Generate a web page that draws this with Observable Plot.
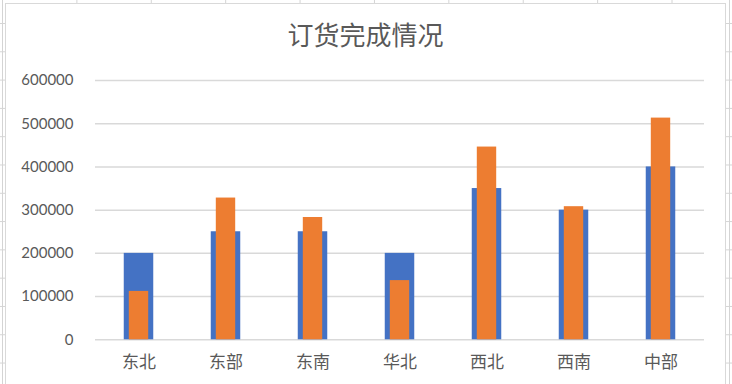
<!DOCTYPE html>
<html>
<head>
<meta charset="utf-8">
<script src="https://cdn.jsdelivr.net/npm/d3@7"></script>
<script src="https://cdn.jsdelivr.net/npm/@observablehq/plot@0.6"></script>
<style>
  html, body { margin: 0; padding: 0; background: #fff; }
  #wrap {
    position: relative; width: 732px; height: 384px; overflow: hidden;
    background-color: #fff;
    background-image:
      linear-gradient(to bottom, #d4d4d4 1px, transparent 1px),
      linear-gradient(to right, #d4d4d4 1px, transparent 1px);
    background-size: 100% 28.3px, 74.4px 100%;
    background-position: 0 23px, 2px 0;
  }
  #edgeR { position: absolute; left: 729px; top: 0; width: 1px; height: 384px; background: #d4d4d4; }
  #box {
    position: absolute; left: 5px; top: 3px; width: 719px; height: 400px;
    background: #fff; border: 1.5px solid #d9d9d9;
  }
  #title {
    position: absolute; left: 5px; width: 721px; top: 20px; text-align: center;
    font-family: "Noto Sans CJK SC", sans-serif; font-size: 26px; line-height: 28px;
    color: #595959;
  }
  #chart { position: absolute; left: 0; top: 0; }
</style>
</head>
<body>
<div id="wrap">
  <div id="edgeR"></div>
  <div id="box"></div>
  <div id="title">订货完成情况</div>
  <div id="chart"></div>
</div>
<script>
const categories = ["东北", "东部", "东南", "华北", "西北", "西南", "中部"];
const targetValues = [200000, 250000, 250000, 200000, 350000, 300000, 400000];
const actualValues = [112000, 328000, 283000, 137000, 446000, 308000, 513000];
const yTicks = [0, 100000, 200000, 300000, 400000, 500000, 600000];

const rows = categories.map((c, i) => ({ cat: c, target: targetValues[i], actual: actualValues[i] }));

const chart = Plot.plot({
  width: 732,
  height: 384,
  marginTop: 80,
  marginBottom: 44.7,
  marginLeft: 95,
  marginRight: 28,
  style: { fontFamily: "Lato, 'Noto Sans CJK SC', sans-serif", background: "transparent", color: "#595959" },
  x: { domain: categories, padding: 0, label: null },
  y: { domain: [0, 600000], label: null },
  marks: [
    Plot.gridY(yTicks, { stroke: "#d9d9d9", strokeOpacity: 1, strokeWidth: 1.5 }),
    Plot.barY(rows, { x: "cat", y: "target", fill: "#4472C4", insetLeft: 28.75, insetRight: 28.75 }),
    Plot.barY(rows, { x: "cat", y: "actual", fill: "#ED7D31", insetLeft: 33.8, insetRight: 33.8 }),
    Plot.axisY(yTicks, { tickSize: 0, tickPadding: 22, tickFormat: d => String(d), fontSize: 15, fill: "#595959" }),
    Plot.axisX({ tickSize: 0, tickPadding: 16, fontSize: 17, fill: "#595959" })
  ]
});
document.getElementById("chart").appendChild(chart);
</script>
</body>
</html>
